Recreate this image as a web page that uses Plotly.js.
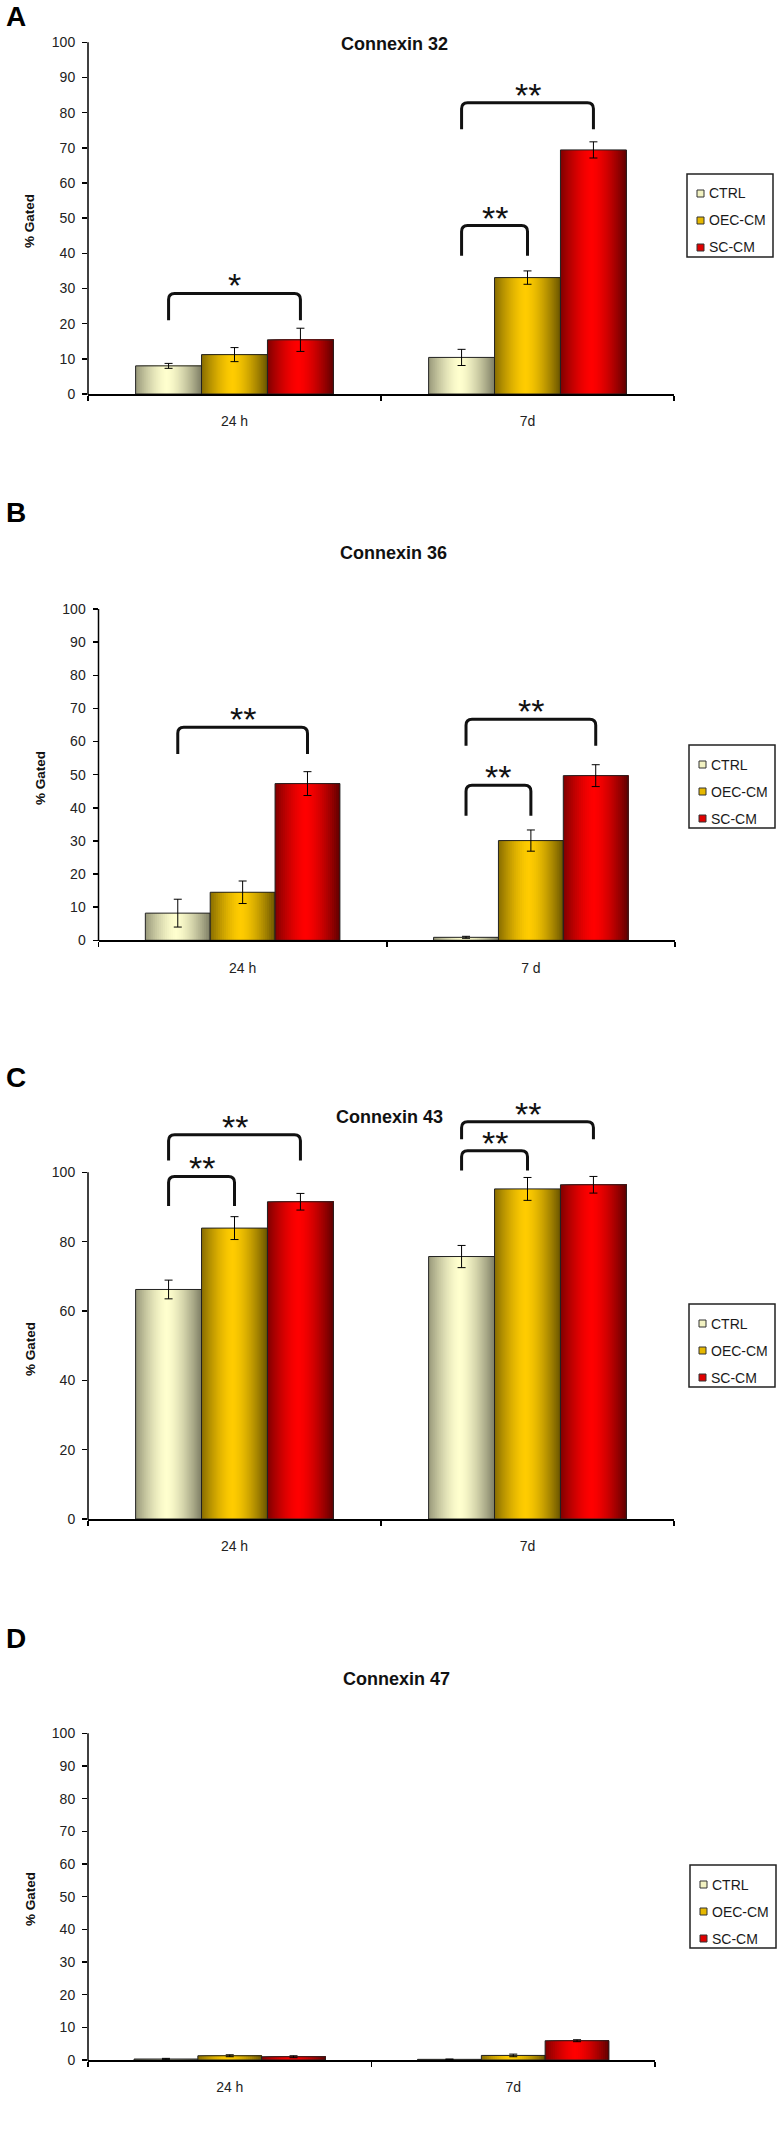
<!DOCTYPE html>
<html><head><meta charset="utf-8">
<script src="https://cdn.plot.ly/plotly-3.0.1.min.js"></script>
<style>html,body{margin:0;padding:0;background:#fff;}#chart{width:780px;height:2143px;}</style>
</head><body><div id="chart"></div>
<script>
// ---------- DATA ----------
const timeLabels = ['24 h', '7d'];
const timeLabelsB = ['24 h', '7 d'];
const seriesNames = ['CTRL', 'OEC-CM', 'SC-CM'];

// Connexin 32
const cx32Ctrl = [8.0, 10.4];   const cx32CtrlErr = [0.7, 2.3];
const cx32Oec  = [11.2, 33.1];  const cx32OecErr  = [2.0, 1.9];
const cx32Sc   = [15.4, 69.4];  const cx32ScErr   = [3.3, 2.3];
// Connexin 36
const cx36Ctrl = [8.2, 0.9];    const cx36CtrlErr = [4.2, 0.3];
const cx36Oec  = [14.5, 30.1];  const cx36OecErr  = [3.4, 3.2];
const cx36Sc   = [47.3, 49.7];  const cx36ScErr   = [3.6, 3.3];
// Connexin 43
const cx43Ctrl = [66.2, 75.7];  const cx43CtrlErr = [2.7, 3.2];
const cx43Oec  = [83.9, 95.2];  const cx43OecErr  = [3.3, 3.3];
const cx43Sc   = [91.5, 96.4];  const cx43ScErr   = [2.4, 2.4];
// Connexin 47
const cx47Ctrl = [0.3, 0.2];    const cx47CtrlErr = [0.2, 0.1];
const cx47Oec  = [1.3, 1.4];    const cx47OecErr  = [0.3, 0.4];
const cx47Sc   = [1.0, 5.9];    const cx47ScErr   = [0.3, 0.3];

// significance brackets: [group, fromSeries, toSeries, topValue, legBottomValue, label]
const cx32Brackets = [[0,0,2,28.6,21.0,'*'],[1,0,1,47.9,39.3,'**'],[1,0,2,82.8,75.3,'**']];
const cx36Brackets = [[0,0,2,64.3,56.2,'**'],[1,0,1,46.8,37.6,'**'],[1,0,2,66.7,58.7,'**']];
const cx43Brackets = [[0,0,1,98.8,90.3,'**'],[0,0,2,110.8,103.4,'**'],[1,0,1,106.2,100.5,'**'],[1,0,2,114.6,109.5,'**']];
const cx47Brackets = [];

// ---------- STYLE ----------
const W = 780, H = 2143;
const FONT = 'Liberation Sans, Arial, Helvetica, sans-serif';
const BAR_W = 0.225;
const N_STRIPS = 33;
const seriesLight = [[255,255,206],[255,204,0],[255,0,0]];
const seriesDark  = [[125,125,100],[105,84,0],[95,0,0]];
const swatchColors = ['#f2f2c2','#e6b800','#e00000'];

function gradColor(s, t) {
  const c = 0.47;
  let b;
  if (t < c) b = 1 - 0.8 * Math.pow((c - t) / c, 1.5);
  else b = 1 - Math.pow((t - c) / (1 - c), 1.5);
  const L = seriesLight[s], D = seriesDark[s];
  const col = [0,1,2].map(i => Math.round(D[i] + (L[i] - D[i]) * b));
  return 'rgb(' + col.join(',') + ')';
}
const xp = v => v / W;
const yp = v => 1 - v / H;

const panels = [
  {letter:'A', title:'Connexin 32', cats:timeLabels, series:[cx32Ctrl,cx32Oec,cx32Sc], errs:[cx32CtrlErr,cx32OecErr,cx32ScErr], brackets:cx32Brackets,
   px:[88,674], py:[42.3,394], ymax:100, yaxisTop:100, dtick:10, letterY:17, titleXY:[394,44], ylab:[30,221], legendXY:[687,174]},
  {letter:'B', title:'Connexin 36', cats:timeLabelsB, series:[cx36Ctrl,cx36Oec,cx36Sc], errs:[cx36CtrlErr,cx36OecErr,cx36ScErr], brackets:cx36Brackets,
   px:[98.5,675], py:[609,940.3], ymax:100, yaxisTop:100, dtick:10, letterY:512, titleXY:[393,553], ylab:[40,778], legendXY:[689,745]},
  {letter:'C', title:'Connexin 43', cats:timeLabels, series:[cx43Ctrl,cx43Oec,cx43Sc], errs:[cx43CtrlErr,cx43OecErr,cx43ScErr], brackets:cx43Brackets,
   px:[88,674], py:[1096,1519], ymax:122, yaxisTop:100, dtick:20, letterY:1077, titleXY:[389,1117], ylab:[30,1349], legendXY:[689,1304]},
  {letter:'D', title:'Connexin 47', cats:timeLabels, series:[cx47Ctrl,cx47Oec,cx47Sc], errs:[cx47CtrlErr,cx47OecErr,cx47ScErr], brackets:cx47Brackets,
   px:[88,655], py:[1733.3,2060], ymax:100, yaxisTop:100, dtick:10, letterY:1638, titleXY:[396,1679], ylab:[30,1899], legendXY:[690,1865]}
];

const traces = [], shapes = [], annotations = [];
const layout = {
  width: W, height: H, margin:{l:0,r:0,t:0,b:0}, paper_bgcolor:'#fff', plot_bgcolor:'rgba(0,0,0,0)',
  showlegend:false, barmode:'overlay', font:{family:FONT, color:'#1a1a1a'}
};

panels.forEach((p, idx) => {
  const sfx = idx === 0 ? '' : String(idx + 1);
  const xa = 'x' + sfx, ya = 'y' + sfx;
  const tv = []; for (let v = 0; v <= p.yaxisTop; v += p.dtick) tv.push(v);
  layout['xaxis' + sfx] = {
    domain:[xp(p.px[0]), xp(p.px[1])], range:[-0.5,1.5], anchor:ya, fixedrange:true,
    showline:true, linecolor:'#000', linewidth:1.5, showgrid:false, zeroline:false,
    tickmode:'array', tickvals:[0,1], ticktext:p.cats, ticks:'', ticklabelstandoff:14,
    tickfont:{family:FONT, size:14, color:'#222'},
    minor:{tickmode:'array', tickvals:[-0.5,0.5,1.5], ticks:'outside', ticklen:5, tickwidth:1.5, tickcolor:'#000', showgrid:false}
  };
  layout['yaxis' + sfx] = {
    domain:[yp(p.py[1]), yp(p.py[0])], range:[0,p.ymax], anchor:xa, fixedrange:true,
    showline:false, showgrid:false, zeroline:false,
    tickmode:'array', tickvals:tv, ticks:'outside', ticklen:5, tickwidth:1.5, tickcolor:'#000',
    ticklabelstandoff:4, tickfont:{family:FONT, size:14, color:'#222'}
  };
  const pxU_y = (p.py[1] - p.py[0]) / p.ymax;
  const pxU_x = (p.px[1] - p.px[0]) / 2;
  shapes.push({type:'line', xref:'paper', yref:'paper', x0:xp(p.px[0]), x1:xp(p.px[0]),
    y0:yp(p.py[1] + 0.75), y1:yp(p.py[1] - p.yaxisTop * pxU_y), line:{color:'#000', width:1.5}});

  p.series.forEach((vals, s) => {
    const start = -1.5 * BAR_W + s * BAR_W;
    for (let i = 0; i < N_STRIPS; i++) {
      traces.push({type:'bar', x:[0,1], y:vals, xaxis:xa, yaxis:ya,
        offset:start + i * BAR_W / N_STRIPS, width:BAR_W - i * BAR_W / N_STRIPS,
        marker:{color:gradColor(s, (i + 0.5) / N_STRIPS), line:{width:0}},
        showlegend:false, hoverinfo:'skip'});
    }
    traces.push({type:'bar', x:[0,1], y:vals, xaxis:xa, yaxis:ya, name:seriesNames[s],
      offset:start, width:BAR_W,
      marker:{color:'rgba(0,0,0,0)', line:{color:'#222', width:1}},
      error_y:{type:'data', array:p.errs[s], visible:true, color:'#000', thickness:1, width:4},
      showlegend:false});
  });

  p.brackets.forEach(b => {
    const [g, s0, s1, top, bot, label] = b;
    const x0 = g + (s0 - 1) * BAR_W, x1 = g + (s1 - 1) * BAR_W;
    const rx = 6 / pxU_x, ry = 6 / pxU_y;
    shapes.push({type:'path', xref:xa, yref:ya,
      path:`M${x0},${bot} L${x0},${top - ry} Q${x0},${top} ${x0 + rx},${top} L${x1 - rx},${top} Q${x1},${top} ${x1},${top - ry} L${x1},${bot}`,
      line:{color:'#111', width:3}});
    annotations.push({xref:xa, yref:ya, x:(x0 + x1) / 2, y:top, text:label, showarrow:false,
      yanchor:'middle', yshift:8, font:{family:FONT, size:34, color:'#111'}});
  });

  annotations.push({xref:'paper', yref:'paper', x:xp(4), y:yp(p.letterY), xanchor:'left', yanchor:'middle',
    text:'<b>' + p.letter + '</b>', showarrow:false, font:{family:FONT, size:28, color:'#000'}});
  annotations.push({xref:'paper', yref:'paper', x:xp(p.titleXY[0]), y:yp(p.titleXY[1]), xanchor:'center', yanchor:'middle',
    text:'<b>' + p.title + '</b>', showarrow:false, font:{family:FONT, size:18, color:'#111'}});
  annotations.push({xref:'paper', yref:'paper', x:xp(p.ylab[0]), y:yp(p.ylab[1]), xanchor:'center', yanchor:'middle',
    text:'<b>% Gated</b>', textangle:-90, showarrow:false, font:{family:FONT, size:13.5, color:'#111'}});

  const [lx, ly] = p.legendXY;
  shapes.push({type:'rect', xref:'paper', yref:'paper', x0:xp(lx), x1:xp(lx + 86), y0:yp(ly + 83), y1:yp(ly),
    line:{color:'#222', width:1.5}, fillcolor:'#fff'});
  seriesNames.forEach((nm, s) => {
    const cy = ly + 19.5 + s * 27;
    shapes.push({type:'rect', xref:'paper', yref:'paper', x0:xp(lx + 10), x1:xp(lx + 17), y0:yp(cy + 3.5), y1:yp(cy - 3.5),
      line:{color:'#333', width:1}, fillcolor:swatchColors[s]});
    annotations.push({xref:'paper', yref:'paper', x:xp(lx + 20), y:yp(cy), xanchor:'left', yanchor:'middle',
      text:nm, showarrow:false, font:{family:FONT, size:14, color:'#1a1a1a'}});
  });
});

layout.shapes = shapes;
layout.annotations = annotations;
Plotly.newPlot('chart', traces, layout, {staticPlot:true, displayModeBar:false});
</script></body></html>
